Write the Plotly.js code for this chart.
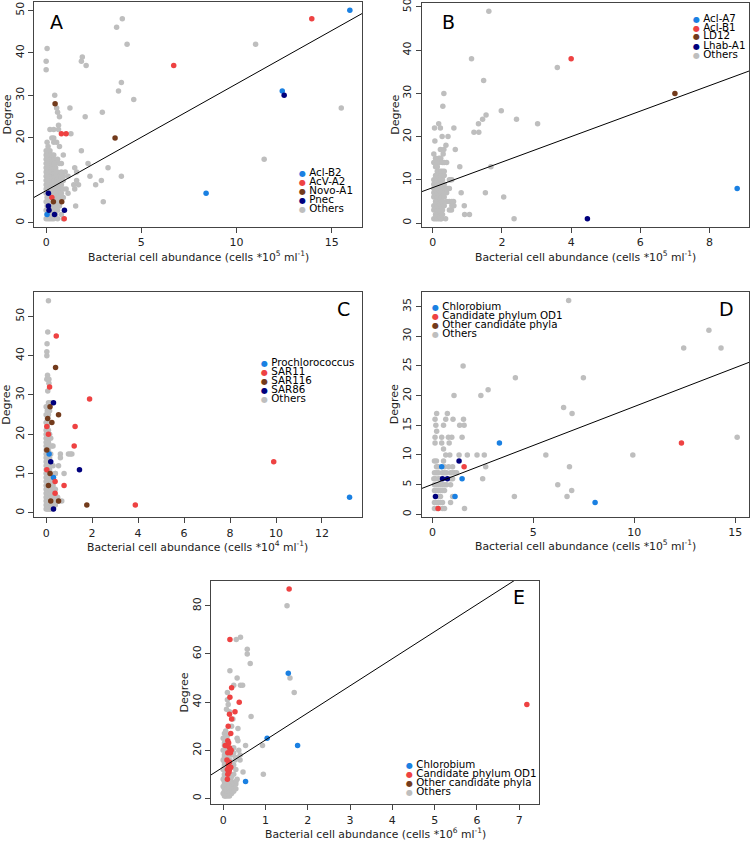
<!DOCTYPE html>
<html><head><meta charset="utf-8">
<script src="https://cdn.plot.ly/plotly-3.0.1.min.js"></script>
<style>html,body{margin:0;padding:0;background:#fff}#chart{width:750px;height:842px}</style>
</head><body><div id="chart"></div>
<script>
// ---------------- Panel A ----------------
const A_others_x = [3.7,4.0,4.25,1.9,1.85,2.1,3.95,3.8,4.6,2.95,2.05,1.25,11.0,15.5,11.45,1.85,2.2,3.25,1.5,2.3,3.95,2.9,2.6,1.7,1.5,3.0,1.55,1.15,1.05,1.15,1.3,0.9,0.8,0.7,0.65,0.7,0.45,0.55,0.6,0.05,0,0,0.2,0.4,0.65,0.4,0.55,0.05,1.6,1.0,0.9,1.45,1.6,
 0,0,0,0,0,0,0,0,0,0,0,0,0,0,
 0.05,0.05,0.05,0.05,0.05,0.05,0.05,
 0.1,0.1,0.1,0.1,0.1,0.1,0.1,0.1,0.1,0.1,0.1,0.1,0.1,0.1,
 0.2,0.2,0.2,0.2,0.2,0.2,0.2,0.2,0.2,0.2,0.2,0.2,0.2,0.2,
 0.3,0.3,0.3,0.3,0.3,0.3,0.3,0.3,0.3,0.3,0.3,0.3,0.3,0.3,
 0.4,0.4,0.4,0.4,0.4,0.4,0.4,0.4,0.4,0.4,0.4,0.4,
 0.5,0.5,0.5,0.5,0.5,0.5,0.5,0.5,0.5,0.5,0.5,
 0.6,0.6,0.6,0.6,0.6,0.6,0.6,0.6,0.6,0.6,
 0.7,0.7,0.7,0.7,0.7,0.7,0.7,
 0.8,0.8,0.8,0.8,0.8,0.8,
 0.9,0.9,0.9,0.9];
const A_others_y = [46,48,42,39,38,37,33,31,29,26,25,27,42,27,15,17,14,13,13,11,11,10,9,9,8,5,4,7,8,11,21,16,14,18,23,25,30,27,26,41,38,36,22,22,22,20,19,19,12,12,11,9,10,
 1,3,5,7,8,9,10,11,12,13,14,15,16,17,
 2,4,6,9,11,13,15,
 1,2,5,8,9,10,11,12,13,14,15,16,17,18,
 1,3,4,7,8,9,10,11,12,13,14,15,16,17,
 1,2,4,6,8,9,10,11,12,13,14,15,16,20,
 1,3,7,8,9,10,11,12,14,15,16,19,
 2,4,6,7,8,9,10,11,12,13,14,
 1,3,5,7,8,9,10,11,12,15,
 4,6,8,9,10,11,14,
 2,7,9,10,11,12,
 1,6,8,10];
const A_aclB2_x = [15.95,12.4,8.4,0.05];
const A_aclB2_y = [50,31,7,2];
const A_acvA2_x = [13.95,6.7,0.8,1.05,0.3,0.95];
const A_acvA2_y = [48,37,21,21,6,1];
const A_novoA1_x = [0.47,3.62,0.38,0.82];
const A_novoA1_y = [28,20,5,5];
const A_pnec_x = [12.5,0.12,0.12,0.15,0.96,0.44];
const A_pnec_y = [30,7,4,3,3,2];

// ---------------- Panel B ----------------
const B_others_x = [1.62,1.12,3.6,1.47,0.32,0.29,1.98,1.54,1.44,2.42,1.32,3.03,1.19,1.33,0.61,0.05,0.22,0.17,0.27,0.44,0.06,0.38,0.65,0.22,0.32,0.78,1.68,0.82,1.52,2.05,2.35,0.91,0.92,1.06,0.6,0.61,0.54,0.37,0.25,0.44,0.51,0.3,0.18,
 0.03,0.03,0.03,0.03,0.03,0.03,0.03,0.03,0.03,0.03,
 0.08,0.08,0.08,0.08,0.08,0.08,0.08,0.08,0.08,0.08,0.08,0.08,0.08,
 0.13,0.13,0.13,0.13,0.13,0.13,0.13,0.13,0.13,0.13,0.13,0.13,0.13,0.13,
 0.18,0.18,0.18,0.18,0.18,0.18,0.18,0.18,0.18,0.18,0.18,
 0.23,0.23,0.23,0.23,0.23,0.23,0.23,0.23,0.23,0.23,0.23,0.23,
 0.28,0.28,0.28,0.28,0.28,0.28,0.28,0.28,0.28,
 0.33,0.33,0.33,0.33,0.33,0.33,0.33,0.33,
 0.4,0.4,0.4,0.4,
 0.48,0.48,0.48,0.48,
 0.55,0.55,0.55];
const B_others_y = [49,38,36,33,30,27,26,25,24,24,23,23,21,21,22,22,22,23,20,20,19,18,17,17,17,13,13,7,7,6,1,4,2,2,5,4,3,1,1,8,10,16,15,
 1,3,4,6,7,8,9,10,14,16,
 1,2,4,5,6,7,8,9,10,11,13,14,15,
 1,2,3,4,5,6,7,8,9,10,11,12,13,14,
 1,2,3,4,5,6,7,9,10,12,14,
 1,2,4,5,6,7,8,9,10,11,12,15,
 2,3,5,6,7,8,10,12,14,
 4,6,7,8,9,11,12,14,
 5,7,8,14,
 3,5,8,10,
 4,5,10];
const B_aclA7_x = [8.8];  const B_aclA7_y = [8];
const B_aclB1_x = [4.0];  const B_aclB1_y = [38];
const B_ld12_x = [7.0];   const B_ld12_y = [30];
const B_lhabA1_x = [4.47]; const B_lhabA1_y = [1];

// ---------------- Panel C ----------------
const C_others_x = [0.1,0.07,0.04,0.03,0.03,0.06,0.03,0.12,0.07,0.12,0.62,0.62,0.97,1.12,1.05,0.54,0.78,0.25,0.55,0.68,0.3,0.4,0.35,0.45,0.5,0.2,0.15,
 0,0,0,0,0,0,0,0,0,0,0,0,0,0,0,0,0,0,0,0,0,0,0,0,
 0.05,0.05,0.05,0.05,0.05,0.05,0.05,0.05,0.05,0.05,0.05,0.05,0.05,0.05,0.05,0.05,0.05,0.05,0.05,0.05,0.05,0.05,0.05,0.05,
 0.1,0.1,0.1,0.1,0.1,0.1,0.1,0.1,0.1,0.1,0.1,0.1,0.1,0.1,0.1,0.1,0.1,0.1,0.1,
 0.15,0.15,0.15,0.15,0.15,0.15,0.15,0.15,0.15,0.15,0.15,0.15,0.15,
 0.2,0.2,0.2,0.2,0.2,0.2,0.2,0.2,0.2,0.2,0.2,
 0.3,0.3,0.3,0.3,0.3,0.3,0.3,0.3,
 0.4,0.4,0.4,0.4,0.4,
 0.5,0.5];
const C_others_y = [54,46,43,41,40,35,34,33,31,34,15,14,15,15,15,12,10,17,3,3,12,10,6,4,3,28,26,
 1,2,3,4,5,6,7,8,9,10,11,12,13,14,15,16,17,18,19,20,21,23,25,27,
 1,2,3,4,5,6,7,8,9,10,11,12,13,14,15,16,17,18,19,20,22,24,26,27,
 1,2,3,4,5,6,7,8,9,10,12,14,16,18,19,21,23,25,28,
 1,2,3,4,5,6,8,9,11,12,14,17,20,
 1,2,3,4,5,6,8,10,12,15,19,
 1,2,3,4,5,7,9,17,
 2,3,4,6,10,
 3,4];
const C_prochl_x = [13.2,0.32,0.13];
const C_prochl_y = [4,9,15];
const C_sar11_x = [0.44,0.15,1.89,1.26,1.22,0.03,9.9,3.88,0.39,0.78,0.39,0.03,0.1];
const C_sar11_y = [45,32,29,22,17,22,13,2,8,7,5,11,20];
const C_sar116_x = [0.41,0.17,0.07,0.25,0.54,0.17,0.1,1.77,0.2,0.54,0.03];
const C_sar116_y = [37,27,24,23,25,10,7,2,3,3,16];
const C_sar86_x = [0.32,0.2,1.45,0.32];
const C_sar86_y = [28,13,11,1];

// ---------------- Panel D ----------------
const D_others_x = [6.75,13.7,12.45,14.3,1.52,4.11,7.48,2.76,1.07,2.4,6.5,6.92,15.1,5.62,9.93,6.79,6.21,6.9,6.67,4.06,1.59,2.49,2.21,2.57,1.73,2.64,1.32,0.86,1.47,1.35,1.57,1.54,1.02,0.74,0.66,0.21,0.13,0.17,0.55,0.21,0.13,0.46,0.79,0.96,0.13,0.46,0.83,0.55,0.66,
 0.1,0.2,0.55,
 0.2,0.3,0.6,0.8,1.0,
 0.1,0.2,0.3,0.5,0.6,0.7,0.9,1.0,1.1,1.2,
 0.07,0.15,0.3,0.4,0.9,1.0,
 0.1,0.2,0.3,0.4,0.5,0.6,0.7,0.9,
 0.1,0.2,0.3,0.4,0.5,0.6,
 0.3,0.4,1.0,
 0.1,0.2,0.3,0.4,0.5,0.9,
 0.1,0.2,0.3,0.5,0.6];
const D_others_y = [36,31,28,28,25,23,23,21,20,20,18,17,13,10,10,8,5,4,3,3,1,6,10,10,10,8,10,10,13,15,15,16,16,17,16,17,16,15,15,14,13,13,13,13,12,12,12,11,10,
 9,9,9,
 8,8,8,8,8,
 7,7,7,7,7,7,7,7,7,7,
 6,6,6,6,6,6,
 5,5,5,5,5,5,5,5,
 4,4,4,4,4,4,
 3,3,3,
 2,2,2,2,2,2,
 1,1,1,1,1];
const D_chlorobium_x = [3.32,8.06,1.47,0.46,1.12];
const D_chlorobium_y = [12,2,6,8,3];
const D_od1_x = [12.34,1.57,0.28];
const D_od1_y = [12,8,1];
const D_otherCand_x = [0.15,0.5,0.74,1.32];
const D_otherCand_y = [3,6,6,9];

// ---------------- Panel E ----------------
const E_others_x = [1.51,0.31,0.41,0.57,0.57,0.64,0.16,1.58,1.68,0.33,0.41,0.46,0.25,0.1,0.66,0.35,0.33,0.35,0.93,0.53,0.37,0.47,0.95,0.4,0.28,0.33,0.1,0.12,0.08,0.15,0.2,0.23,0.4,0.25,0.3,
 0,0,0,0,0,0,0,
 0.03,0.03,0.03,0.03,0.03,0.03,0.03,0.03,0.03,0.03,0.03,0.03,0.03,0.03,0.03,
 0.06,0.06,0.06,0.06,0.06,0.06,0.06,0.06,0.06,0.06,0.06,0.06,0.06,0.06,0.06,0.06,
 0.1,0.1,0.1,0.1,0.1,0.1,0.1,0.1,0.1,0.1,0.1,0.1,0.1,
 0.15,0.15,0.15,0.15,0.15,0.15,0.15,0.15,
 0.2,0.2,0.2,0.2,0.2,0.2,0.2,0.2,
 0.25,0.25,0.25,0.25,0.25,0.25,
 0.3,0.3,0.3,0.3];
const E_others_y = [80,66,67,62,60,56,53,50,44,50,47,47,47,44,34,29,25,24,22,22,20,11,10,18,16,8,41,39,37,36,30,33,16,14,12,
 2,5,8,12,16,20,25,
 1,3,4,6,7,9,10,13,14,15,17,18,22,23,27,
 1,2,3,4,5,6,8,9,11,12,14,16,19,21,24,28,
 1,2,3,4,5,6,7,9,10,13,17,18,26,
 1,3,4,5,6,8,9,16,
 2,3,4,5,7,9,13,18,
 3,5,6,10,19,21,
 4,6,7,17];
const E_chlorobium_x = [1.54,1.04,1.76,0.53];
const E_chlorobium_y = [52,25,22,7];
const E_od1_x = [1.56,0.16,7.18,0.2,0.16,0.38,0.28,0.15,0.2,0.12,0.18,0.11,0.05,0.15,0.19,0.11,0.15,0.1,0.15,0.11,0.1,0.12,0.08,0.13,0.17,0.09,0.14,0.18];
const E_od1_y = [87,66,39,46,42,40,36,35,33,30,27,24,22,21,20,19,15,12,12,10,8,14,22,23,19,16,11,13];

// ---------------- Regression lines (intercept, slope) per panel A..E ----------------
const fitIntercept = [7.6, 8.2, null, 5.05, 13.0];
const fitSlope     = [2.51, 2.95, null, 1.31, 11.26];

// ---------------- Legends ----------------
const legendLabels = [
  ['Acl-B2','AcV-A2','Novo-A1','Pnec','Others'],
  ['Acl-A7','Acl-B1','LD12','Lhab-A1','Others'],
  ['Prochlorococcus','SAR11','SAR116','SAR86','Others'],
  ['Chlorobium','Candidate phylum OD1','Other candidate phyla','Others'],
  ['Chlorobium','Candidate phylum OD1','Other candidate phyla','Others']
];
const panelLetters = ['A','B','C','D','E'];
const xTitleExp = ['5','5','4','5','6'];

const COL = {blue:'#1a80e2', red:'#ee4242', brown:'#733b1c', navy:'#00007d', gray:'#bebebe'};
const legendColors = [
  [COL.blue,COL.red,COL.brown,COL.navy,COL.gray],
  [COL.blue,COL.red,COL.brown,COL.navy,COL.gray],
  [COL.blue,COL.red,COL.brown,COL.navy,COL.gray],
  [COL.blue,COL.red,COL.brown,COL.gray],
  [COL.blue,COL.red,COL.brown,COL.gray]
];

const W = 750, H = 842;
const FONT = 'DejaVu Sans, Liberation Sans, sans-serif';
// plot boxes in px: [left, right, top, bottom]
const boxes = [
  [34, 362, 2, 227],
  [421.7, 749.3, 3, 227],
  [34, 361.7, 292.3, 517.3],
  [421.7, 749.3, 292.3, 516.7],
  [211, 539, 580.7, 804.3]
];
const xDticks = [5,2,2,5,1];
const yDticks = [10,10,10,5,20];

const panels = [
  {series:[[A_others_x,A_others_y,COL.gray],[A_aclB2_x,A_aclB2_y,COL.blue],[A_acvA2_x,A_acvA2_y,COL.red],[A_novoA1_x,A_novoA1_y,COL.brown],[A_pnec_x,A_pnec_y,COL.navy]]},
  {series:[[B_others_x,B_others_y,COL.gray],[B_aclA7_x,B_aclA7_y,COL.blue],[B_aclB1_x,B_aclB1_y,COL.red],[B_ld12_x,B_ld12_y,COL.brown],[B_lhabA1_x,B_lhabA1_y,COL.navy]]},
  {series:[[C_others_x,C_others_y,COL.gray],[C_prochl_x,C_prochl_y,COL.blue],[C_sar11_x,C_sar11_y,COL.red],[C_sar116_x,C_sar116_y,COL.brown],[C_sar86_x,C_sar86_y,COL.navy]]},
  {series:[[D_others_x,D_others_y,COL.gray],[D_chlorobium_x,D_chlorobium_y,COL.blue],[D_od1_x,D_od1_y,COL.red],[D_otherCand_x,D_otherCand_y,COL.navy]]},
  {series:[[E_others_x,E_others_y,COL.gray],[E_chlorobium_x,E_chlorobium_y,COL.blue],[E_od1_x,E_od1_y,COL.red]]}
];
// legend anchor: [dot x px, first row y px, row step px]
const legendPos = [[297,172.5,8.75],[691,17.5,9],[259,362.3,8.85],[430,306,8.9],[403.5,764,9]];
// letter position px [x, y, anchor]
const letterPos = [[47.7,21.7,'left'],[440,21.7,'left'],[352,309.3,'right'],[736,309.3,'right'],[527,597.3,'right']];

function rng(arrs){
  let mn=Infinity,mx=-Infinity;
  arrs.forEach(a=>a.forEach(v=>{if(v<mn)mn=v;if(v>mx)mx=v;}));
  const p=(mx-mn)*0.04; return [mn-p,mx+p];
}
const px = v => v/W, py = v => 1 - v/H;

const traces = [], layout = {
  width:W, height:H, margin:{l:0,r:0,t:0,b:0}, showlegend:false,
  paper_bgcolor:'#fff', plot_bgcolor:'#fff', font:{family:FONT,size:11,color:'#222'},
  annotations:[]
};

panels.forEach((p,i)=>{
  const n = i===0?'':String(i+1);
  const xa = 'x'+n, ya = 'y'+n;
  const xr = rng(p.series.map(s=>s[0])), yr = rng(p.series.map(s=>s[1]));
  const b = boxes[i];
  const axCommon = {showgrid:false, zeroline:false, showline:true, mirror:true, linecolor:'#444', linewidth:1,
    ticks:'outside', ticklen:5, tickcolor:'#444', tickfont:{family:FONT,size:11,color:'#222'}, fixedrange:true,
    ticklabeloverflow:'allow'};
  layout['xaxis'+n] = Object.assign({}, axCommon, {domain:[px(b[0]),px(b[1])], range:xr, anchor:ya, dtick:xDticks[i], tick0:0});
  layout['yaxis'+n] = Object.assign({}, axCommon, {domain:[py(b[3]),py(b[2])], range:yr, anchor:xa, dtick:yDticks[i], tick0:0, tickangle:-90});
  p.series.forEach(s=>{
    traces.push({type:'scatter', mode:'markers', x:s[0], y:s[1], xaxis:xa, yaxis:ya,
      marker:{color:s[2], size:5.5, line:{width:0}}, hoverinfo:'x+y', cliponaxis:true});
  });
  if(fitIntercept[i]!==null){
    const xs=[xr[0]-1, xr[1]+1];
    traces.push({type:'scatter', mode:'lines', x:xs, y:xs.map(v=>fitIntercept[i]+fitSlope[i]*v),
      xaxis:xa, yaxis:ya, line:{color:'#000', width:1}, hoverinfo:'skip'});
  }
  // axis titles
  const cx = (b[0]+b[1])/2;
  layout.annotations.push({xref:'paper', yref:'paper', x:px(cx), y:py(b[3]+29), xanchor:'center', yanchor:'middle', showarrow:false,
    text:'Bacterial cell abundance (cells *10<sup>'+xTitleExp[i]+'</sup> ml<sup>-1</sup>)', font:{family:FONT,size:10.8,color:'#222'}});
  layout.annotations.push({xref:'paper', yref:'paper', x:px(b[0]-27), y:py((b[2]+b[3])/2), xanchor:'center', yanchor:'middle', showarrow:false,
    textangle:-90, text:'Degree', font:{family:FONT,size:11,color:'#222'}});
  // letter
  const lp = letterPos[i];
  layout.annotations.push({xref:'paper', yref:'paper', x:px(lp[0]), y:py(lp[1]), xanchor:lp[2], yanchor:'middle', showarrow:false,
    text:panelLetters[i], font:{family:FONT,size:19,color:'#000'}});
  // legend
  const lg = legendPos[i];
  legendLabels[i].forEach((lab,k)=>{
    layout.annotations.push({xref:'paper', yref:'paper', x:px(lg[0]), y:py(lg[1]+k*lg[2]), xanchor:'left', yanchor:'middle', showarrow:false,
      text:'<span style="color:'+legendColors[i][k]+';font-size:8px">●</span> '+lab, font:{family:FONT,size:10.3,color:'#000'}});
  });
});

Plotly.newPlot('chart', traces, layout, {displayModeBar:false, staticPlot:true});
</script>
</body></html>
